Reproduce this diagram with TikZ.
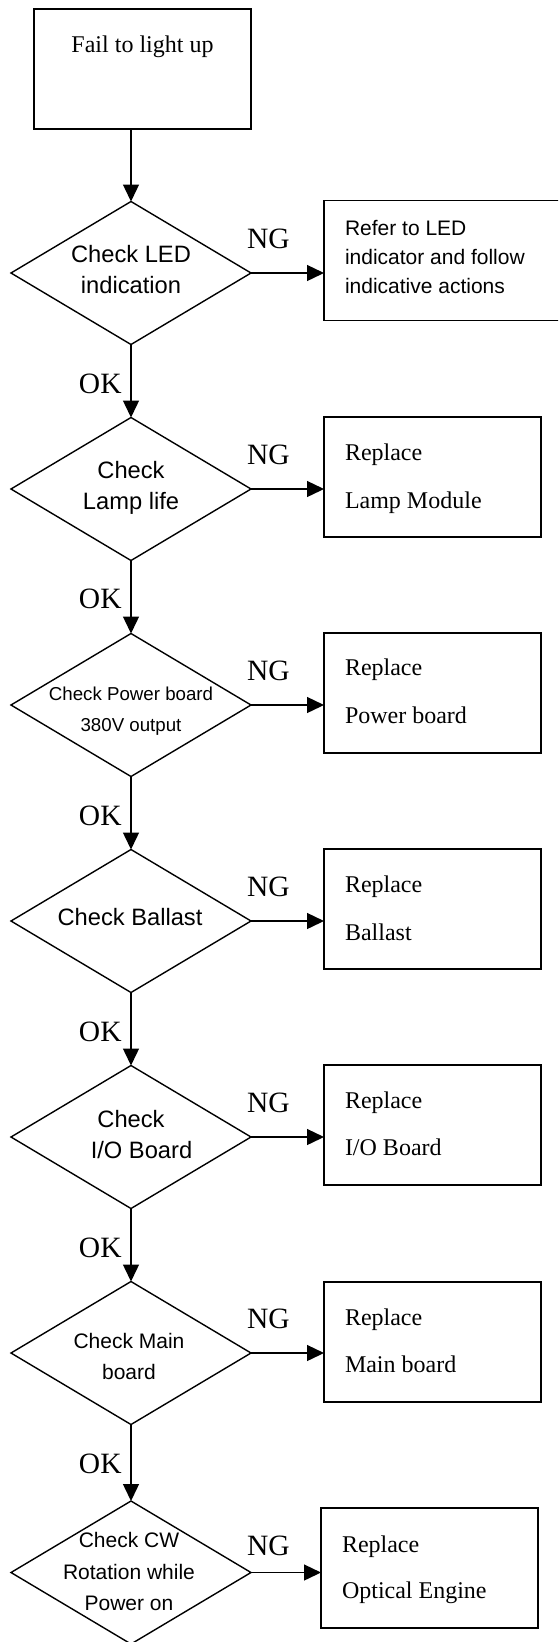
\documentclass[tikz,border=0pt]{standalone}
\usepackage{fontspec}
\setmainfont{Liberation Serif}
\newfontfamily\arialf{Liberation Sans}
\usetikzlibrary{shapes.geometric,arrows.meta}
\begin{document}
\begin{tikzpicture}[x=1pt,y=-1pt,
  every node/.style={inner sep=0pt,outer sep=0pt},
  shp/.style={draw,line width=1.4pt},
  dia/.style={shp,diamond,minimum width=240pt,minimum height=143pt},
  boxn/.style={shp,rectangle,minimum width=217pt,minimum height=120pt},
  arr/.style={line width=1.4pt,-{Triangle[length=17pt,width=16pt]}},
  tr/.style={anchor=base,font=\fontsize{24}{28}\selectfont},
  trl/.style={anchor=base west,font=\fontsize{24}{28}\selectfont},
  lab/.style={anchor=base,font=\fontsize{29.5}{32}\selectfont},
  sL/.style={anchor=base,font=\arialf\fontsize{23.7}{28}\selectfont},
  sM/.style={anchor=base,font=\arialf\fontsize{21}{25}\selectfont},
  sS/.style={anchor=base,font=\arialf\fontsize{18.7}{22}\selectfont},
  sMl/.style={anchor=base west,font=\arialf\fontsize{21}{25}\selectfont},
]
\useasboundingbox (0,0) rectangle (558,1642);
\clip (0,0) rectangle (558,1642);

% start box
\node[boxn] (start) at (142.5,69) {};
\node[tr] (startt) at (142.5,52) {Fail to light up};

% diamonds
\node[dia] (d1) at (131,273) {};
\node[dia] (d2) at (131,489) {};
\node[dia] (d3) at (131,705) {};
\node[dia] (d4) at (131,921) {};
\node[dia] (d5) at (131,1137) {};
\node[dia] (d6) at (131,1353) {};
\node[dia] (d7) at (131,1572.5) {};

% diamond texts
\node[sL] (d1a) at (131,262) {Check LED};
\node[sL] (d1b) at (131,293) {indication};
\node[sL] (d2a) at (131,478) {Check};
\node[sL] (d2b) at (131,509) {Lamp life};
\node[sS] (d3a) at (131,700.5) {Check Power board};
\node[sS] (d3b) at (131,731) {380V output};
\node[sL] (d4a) at (130,925) {Check Ballast};
\node[sL] (d5a) at (131,1127) {Check};
\node[sL] (d5b) at (141.5,1158) {I/O Board};
\node[sM] (d6a) at (129,1348) {Check Main};
\node[sM] (d6b) at (129,1379) {board};
\node[sM] (d7a) at (129,1547) {Check CW};
\node[sM] (d7b) at (129,1579) {Rotation while};
\node[sM] (d7c) at (129,1610) {Power on};

% boxes
\node[boxn,minimum width=260pt] (b1) at (454,260.5) {};
\node[boxn] (b2) at (432.5,477) {};
\node[boxn] (b3) at (432.5,693) {};
\node[boxn] (b4) at (432.5,909) {};
\node[boxn] (b5) at (432.5,1125) {};
\node[boxn] (b6) at (432.5,1342) {};
\node[boxn] (b7) at (429.5,1568) {};

% box texts
\node[sMl] (b1a) at (345,235) {Refer to LED};
\node[sMl] (b1b) at (345,264) {indicator and follow};
\node[sMl] (b1c) at (345,293) {indicative actions};
\node[trl] (b2a) at (345,460) {Replace};
\node[trl] (b2b) at (345,508) {Lamp Module};
\node[trl] (b3a) at (345,675) {Replace};
\node[trl] (b3b) at (345,723) {Power board};
\node[trl] (b4a) at (345,892) {Replace};
\node[trl] (b4b) at (345,940) {Ballast};
\node[trl] (b5a) at (345,1108) {Replace};
\node[trl] (b5b) at (345,1155) {I/O Board};
\node[trl] (b6a) at (345,1325) {Replace};
\node[trl] (b6b) at (345,1372) {Main board};
\node[trl] (b7a) at (342,1552) {Replace};
\node[trl] (b7b) at (342,1598) {Optical Engine};

% NG labels
\node[lab] (ng1) at (268.5,248) {NG};
\node[lab] (ng2) at (268.5,464) {NG};
\node[lab] (ng3) at (268.5,680) {NG};
\node[lab] (ng4) at (268.5,896) {NG};
\node[lab] (ng5) at (268.5,1112) {NG};
\node[lab] (ng6) at (268.5,1328) {NG};
\node[lab] (ng7) at (268.5,1555) {NG};

% OK labels
\node[lab] (ok1) at (100.3,393) {OK};
\node[lab] (ok2) at (100.3,608) {OK};
\node[lab] (ok3) at (100.3,825) {OK};
\node[lab] (ok4) at (100.3,1041) {OK};
\node[lab] (ok5) at (100.3,1257) {OK};
\node[lab] (ok6) at (100.3,1473) {OK};

% connectors
\draw[arr] (d1.north |- start.south) -- (d1.north);
\draw[arr] (d1.south) -- (d2.north);
\draw[arr] (d2.south) -- (d3.north);
\draw[arr] (d3.south) -- (d4.north);
\draw[arr] (d4.south) -- (d5.north);
\draw[arr] (d5.south) -- (d6.north);
\draw[arr] (d6.south) -- (d7.north);
\draw[arr] (d1.east) -- (d1.east -| b1.west);
\draw[arr] (d2.east) -- (d2.east -| b2.west);
\draw[arr] (d3.east) -- (d3.east -| b3.west);
\draw[arr] (d4.east) -- (d4.east -| b4.west);
\draw[arr] (d5.east) -- (d5.east -| b5.west);
\draw[arr] (d6.east) -- (d6.east -| b6.west);
\draw[arr] (d7.east) -- (d7.east -| b7.west);
\end{tikzpicture}
\end{document}
